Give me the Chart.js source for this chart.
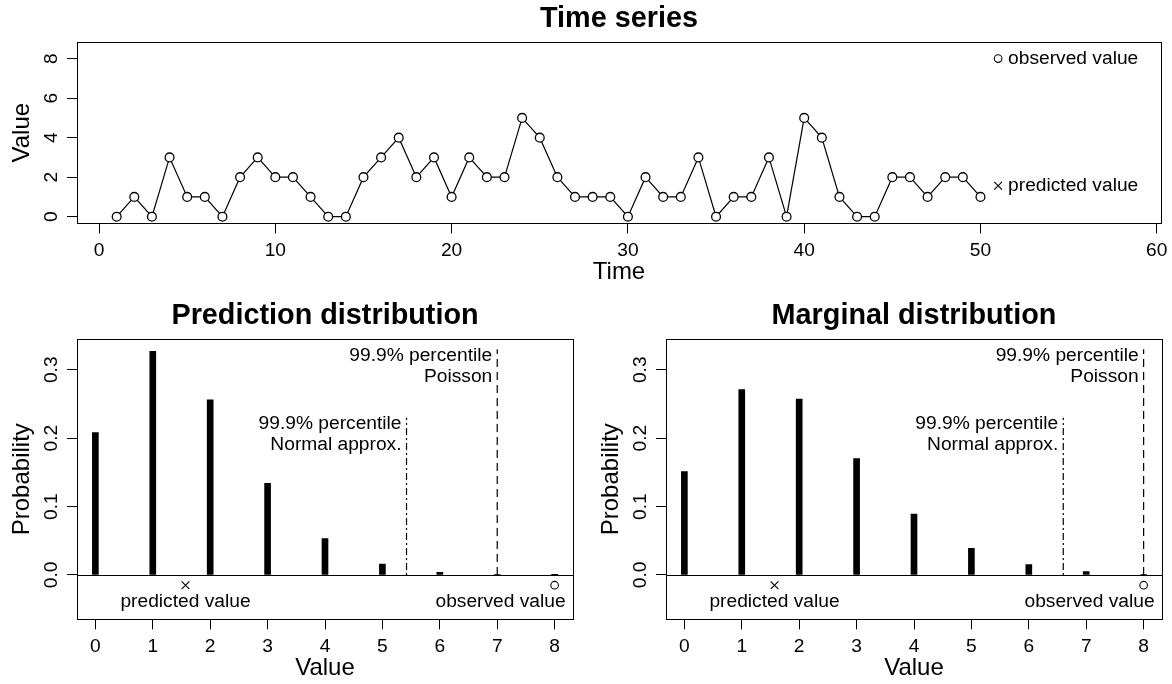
<!DOCTYPE html>
<html>
<head>
<meta charset="utf-8">
<title>Time series and predictive distributions</title>
<script src="https://cdn.jsdelivr.net/npm/chart.js@4.4.1/dist/chart.umd.min.js"></script>
<style>
  body { margin: 0; background: #fff; }
  #wrap { position: relative; width: 1172px; height: 684px; }
  canvas { position: absolute; }
  #tsChart { left: 0; top: 0; }
  #predChart { left: 0; top: 290px; }
  #margChart { left: 586px; top: 290px; }
</style>
</head>
<body>
<div id="wrap">
  <canvas id="tsChart" width="1172" height="290"></canvas>
  <canvas id="predChart" width="586" height="394"></canvas>
  <canvas id="margChart" width="586" height="394"></canvas>
</div>
<script>
// observed counts, time 1..50
const counts = [0, 1, 0, 3, 1, 1, 0, 2, 3, 2, 2, 1, 0, 0, 2, 3, 4, 2, 3, 1,
                3, 2, 2, 5, 4, 2, 1, 1, 1, 0, 2, 1, 1, 3, 0, 1, 1, 3, 0, 5,
                4, 1, 0, 0, 2, 2, 1, 2, 2, 1];
const nextTime = 51;
const observedNext = 8;
const predictedNext = 1.57;
const timeTickLabels = ['0', '10', '20', '30', '40', '50', '60'];
const countTickLabels = ['0', '2', '4', '6', '8'];

// distributions for the next value
const valueCats = [0, 1, 2, 3, 4, 5, 6, 7, 8];
const predProb = [0.208, 0.327, 0.256, 0.134, 0.053, 0.016, 0.004, 0.001, 0.0002];
const margProb = [0.151, 0.271, 0.257, 0.170, 0.089, 0.039, 0.015, 0.005, 0.001];
const valueTickLabels = ['0', '1', '2', '3', '4', '5', '6', '7', '8'];
const probTickLabels = ['0.0', '0.1', '0.2', '0.3'];

// 99.9% percentiles (normal approx. / Poisson) and heights of their marker lines
const predNormalQ = 5.42, predPoissonQ = 7;
const margNormalQ = 6.6, margPoissonQ = 8;
const normalLineTop = 0.23, poissonLineTop = 0.33;


const FAMILY = "'Liberation Sans', Arial, Helvetica, sans-serif";
const TICK_SIZE = 19.2;
const tickFont = { family: FAMILY, size: TICK_SIZE };
const labelFont = { family: FAMILY, size: 24 };
const titleFont = { family: FAMILY, size: 28.8, weight: 'bold' };

// box around the plot region
const framePlugin = {
    id: 'frame',
    afterDraw(chart) {
        const { ctx, chartArea: a } = chart;
        ctx.save();
        ctx.strokeStyle = '#000';
        ctx.lineWidth = 1;
        ctx.strokeRect(Math.round(a.left) + 0.5, Math.round(a.top) + 0.5,
            Math.round(a.right - a.left), Math.round(a.bottom - a.top));
        ctx.restore();
    }
};

// horizontal line at probability 0
const zeroLinePlugin = {
    id: 'zeroLine',
    afterDatasetsDraw(chart) {
        const { ctx, chartArea: a, scales: { y } } = chart;
        const py = Math.round(y.getPixelForValue(0)) + 0.5;
        ctx.save();
        ctx.strokeStyle = '#000';
        ctx.lineWidth = 1.2;
        ctx.beginPath();
        ctx.moveTo(a.left, py);
        ctx.lineTo(a.right, py);
        ctx.stroke();
        ctx.restore();
    }
};

// text notes placed at data coordinates
function notesPlugin(items) {
    return {
        id: 'notes',
        afterDatasetsDraw(chart) {
            const { ctx, scales: { x, y } } = chart;
            ctx.save();
            ctx.fillStyle = '#000';
            ctx.font = TICK_SIZE + 'px ' + FAMILY;
            ctx.textBaseline = 'middle';
            items.forEach(n => {
                ctx.textAlign = n.align || 'left';
                ctx.fillText(n.text, x.getPixelForValue(n.x) + (n.dx || 0), y.getPixelForValue(n.y) + (n.dy || 0));
            });
            ctx.restore();
        }
    };
}

const gridOpts = { drawOnChartArea: false, drawTicks: true, tickLength: 10, color: '#000', lineWidth: 1, offset: false };

function xAxis(min, max, labels, title) {
    return {
        type: 'linear', min: min, max: max, offset: false,
        afterBuildTicks: s => { s.ticks = labels.map(l => ({ value: Number(l) })); },
        afterFit: s => { s.height = 63; s.paddingLeft = 0; s.paddingRight = 0; },
        ticks: { font: tickFont, color: '#000', padding: 5.5, minRotation: 0, maxRotation: 0,
                 autoSkip: false, callback: (v, i) => labels[i] },
        grid: gridOpts,
        border: { display: false },
        title: { display: true, text: title, font: labelFont, color: '#000', padding: 0 }
    };
}

function yAxis(min, max, labels, title, pad) {
    return {
        type: 'linear', min: min, max: max,
        afterBuildTicks: s => { s.ticks = labels.map(l => ({ value: Number(l) })); },
        afterFit: s => { s.width = 77; s.paddingTop = 0; s.paddingBottom = 0; },
        ticks: { font: tickFont, color: '#000', padding: pad, minRotation: 90, maxRotation: 90,
                 crossAlign: 'center', autoSkip: false, callback: (v, i) => labels[i] },
        grid: gridOpts,
        border: { display: false },
        title: { display: true, text: title, font: labelFont, color: '#000', padding: { top: 8.1, bottom: 0 } }
    };
}

function marker(x, y, style, radius) {
    return {
        type: 'line',
        data: [{ x: x, y: y }],
        showLine: false,
        pointStyle: style,
        pointRadius: radius,
        pointBorderColor: '#000',
        pointBackgroundColor: '#fff',
        pointBorderWidth: 1.1
    };
}

function mainTitle(text, padTop) {
    return { display: true, fullSize: false, text: text, font: titleFont, color: '#000',
             padding: { top: padTop, bottom: 5.44 } };
}

// Time series panel
new Chart(document.getElementById('tsChart'), {
    type: 'line',
    data: {
        datasets: [
            {
                data: counts.map((c, i) => ({ x: i + 1, y: c })),
                borderColor: '#000',
                borderWidth: 1.2,
                tension: 0,
                pointStyle: 'circle',
                pointRadius: 4.4,
                pointBorderColor: '#000',
                pointBackgroundColor: '#fff',
                pointBorderWidth: 1.3
            },
            marker(nextTime, observedNext, 'circle', 3.8),
            marker(nextTime, predictedNext, 'crossRot', 5.5)
        ]
    },
    options: {
        responsive: false,
        animation: false,
        layout: { padding: { left: 0, right: 11, top: 0, bottom: 3.6 } },
        plugins: {
            legend: { display: false },
            tooltip: { enabled: false },
            title: mainTitle('Time series', 2.0)
        },
        scales: {
            x: xAxis(-1.25, 60.24, timeTickLabels, 'Time'),
            y: yAxis(-0.34, 8.84, countTickLabels, 'Value', 9.6)
        }
    },
    plugins: [framePlugin, notesPlugin([
        { x: nextTime, y: observedNext, text: 'observed value', dx: 10 },
        { x: nextTime, y: predictedNext, text: 'predicted value', dx: 10 }
    ])]
});

// Distribution panels
function distChart(canvasId, titleText, probs, normalQ, poissonQ, padLeft, padRight) {
    const markerY = -0.015;
    new Chart(document.getElementById(canvasId), {
        type: 'line',
        data: {
            datasets: [
                {
                    type: 'bar',
                    data: valueCats.map((v, i) => ({ x: v, y: probs[i] })),
                    backgroundColor: '#000',
                    borderWidth: 0,
                    barThickness: 6,
                    grouped: false
                },
                {
                    data: [{ x: normalQ, y: 0 }, { x: normalQ, y: normalLineTop }],
                    borderColor: '#000', borderWidth: 1.2, borderDash: [2, 3, 7, 3], pointRadius: 0
                },
                {
                    data: [{ x: poissonQ, y: 0 }, { x: poissonQ, y: poissonLineTop }],
                    borderColor: '#000', borderWidth: 1.2, borderDash: [8, 5], pointRadius: 0
                },
                marker(predictedNext, markerY, 'crossRot', 5.5),
                marker(observedNext, markerY, 'circle', 3.8)
            ]
        },
        options: {
            responsive: false,
            animation: false,
            layout: { padding: { left: padLeft, right: padRight, top: 0, bottom: 1.6 } },
            plugins: {
                legend: { display: false },
                tooltip: { enabled: false },
                title: mainTitle(titleText, 9.0)
            },
            scales: {
                x: xAxis(-0.32, 8.32, valueTickLabels, 'Value'),
                y: yAxis(-0.065, 0.345, probTickLabels, 'Probability', 1.7)
            }
        },
        plugins: [framePlugin, zeroLinePlugin, notesPlugin([
            { x: poissonQ, y: poissonLineTop, text: '99.9% percentile', align: 'right', dx: -5, dy: 6 },
            { x: poissonQ, y: poissonLineTop, text: 'Poisson', align: 'right', dx: -5, dy: 27 },
            { x: normalQ, y: normalLineTop, text: '99.9% percentile', align: 'right', dx: -5, dy: 6 },
            { x: normalQ, y: normalLineTop, text: 'Normal approx.', align: 'right', dx: -5, dy: 27 },
            { x: predictedNext, y: markerY, text: 'predicted value', align: 'center', dy: 17 },
            { x: observedNext, y: markerY, text: 'observed value', align: 'right', dx: 11, dy: 17 }
        ])]
    });
}

distChart('predChart', 'Prediction distribution', predProb, predNormalQ, predPoissonQ, 0, 13);
distChart('margChart', 'Marginal distribution', margProb, margNormalQ, margPoissonQ, 3, 10);
</script>
</body>
</html>
